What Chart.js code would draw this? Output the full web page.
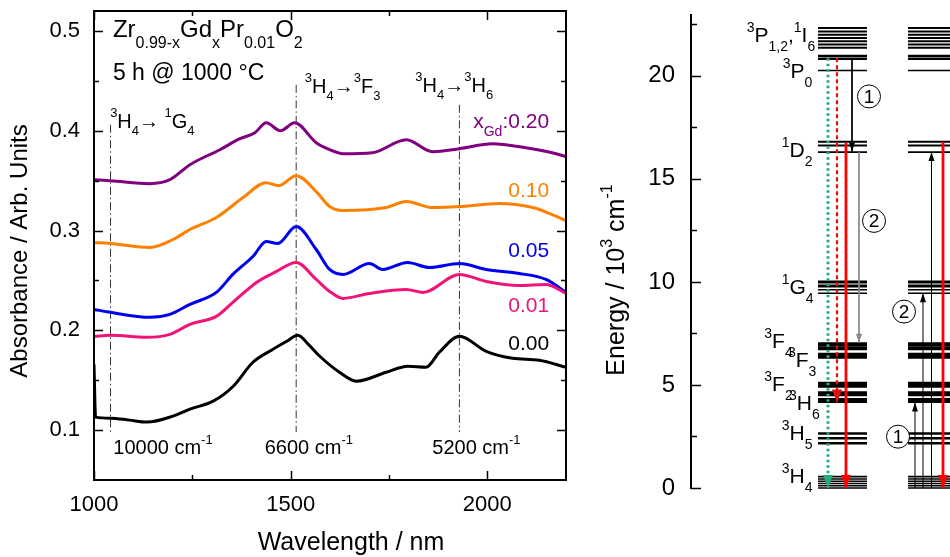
<!DOCTYPE html>
<html>
<head>
<meta charset="utf-8">
<script src="https://cdn.jsdelivr.net/npm/chart.js@4.4.1/dist/chart.umd.min.js"></script>
<style>
  html, body { margin: 0; padding: 0; background: #fff; }
  #wrap { position: relative; width: 950px; height: 557px; overflow: hidden; }
  #absChart { position: absolute; left: 0; top: 0; }
  #levelChart { position: absolute; left: 600px; top: 0; }
</style>
</head>
<body>
<div id="wrap">
  <canvas id="absChart" width="600" height="557"></canvas>
  <canvas id="levelChart" width="350" height="557"></canvas>
</div>
<script>
// ---- absorbance spectra (left) ----
const wl000  = [1000, 1004, 1042, 1090, 1134, 1201, 1244, 1303, 1354, 1404, 1455, 1490, 1518, 1545, 1574, 1624, 1667, 1743, 1798, 1844, 1878, 1929, 1997, 2064, 2132, 2200];
const abs000 = [0.166, 0.113, 0.112, 0.110, 0.108, 0.114, 0.121, 0.129, 0.144, 0.168, 0.181, 0.189, 0.195, 0.186, 0.174, 0.158, 0.149, 0.158, 0.164, 0.163, 0.178, 0.194, 0.179, 0.172, 0.170, 0.163];

const wl001  = [1000, 1042, 1134, 1193, 1244, 1311, 1353, 1413, 1464, 1514, 1565, 1599, 1633, 1700, 1794, 1836, 1929, 1997, 2081, 2149, 2200];
const abs001 = [0.194, 0.195, 0.193, 0.196, 0.206, 0.214, 0.228, 0.248, 0.259, 0.268, 0.251, 0.239, 0.232, 0.237, 0.241, 0.238, 0.256, 0.249, 0.245, 0.246, 0.237];

const wl005  = [1000, 1042, 1142, 1193, 1244, 1311, 1353, 1404, 1438, 1467, 1514, 1565, 1599, 1633, 1700, 1734, 1797, 1853, 1929, 1997, 2081, 2149, 2200];
const abs005 = [0.221, 0.218, 0.213, 0.216, 0.226, 0.238, 0.256, 0.274, 0.289, 0.287, 0.304, 0.281, 0.261, 0.256, 0.267, 0.261, 0.268, 0.263, 0.267, 0.261, 0.257, 0.251, 0.238];

const wl010  = [1000, 1042, 1142, 1201, 1244, 1311, 1379, 1437, 1470, 1514, 1565, 1599, 1633, 1743, 1794, 1861, 1929, 2030, 2115, 2165, 2200];
const abs010 = [0.288, 0.287, 0.283, 0.291, 0.301, 0.313, 0.333, 0.348, 0.345, 0.355, 0.339, 0.324, 0.320, 0.323, 0.329, 0.323, 0.324, 0.327, 0.323, 0.316, 0.310];

const wl020  = [1000, 1042, 1142, 1193, 1244, 1320, 1371, 1409, 1438, 1474, 1510, 1565, 1599, 1633, 1708, 1794, 1861, 1929, 2013, 2098, 2165, 2200];
const abs020 = [0.351, 0.350, 0.347, 0.351, 0.366, 0.381, 0.392, 0.398, 0.408, 0.400, 0.408, 0.388, 0.381, 0.377, 0.378, 0.391, 0.379, 0.382, 0.387, 0.383, 0.378, 0.374];

const seriesLabels = ['0.00', '0.01', '0.05', '0.10', 'x_{Gd}:0.20'];

// axis ticks
const wlTicks  = [1000, 1250, 1500, 1750, 2000];
const wlLabels = [1000, 1500, 2000];
const absTicks  = [0.1, 0.15, 0.2, 0.25, 0.3, 0.35, 0.4, 0.45, 0.5];
const absLabels = ['0.1', '0.2', '0.3', '0.4', '0.5'];
const energyTicks  = [0, 2.5, 5, 7.5, 10, 12.5, 15, 17.5, 20, 22.5];
const energyLabels = [0, 5, 10, 15, 20];

// transition markers (dash-dot lines)
const markWl  = [1042, 1514, 1929];
const markTop = [0.406, 0.446, 0.426];
const markBottom = 0.098;
const markText = ['10000 cm^{-1}', '6600 cm^{-1}', '5200 cm^{-1}'];

// ---- energy levels of Pr3+ (right), 10^3 cm^-1 ----
const lvlP    = [22.32, 22.15, 21.99, 21.83, 21.68, 21.52, 21.36, 20.97, 20.83];
const lvlP0   = [20.26];
const lvlD2   = [16.8, 16.62, 16.3];
const lvlG4   = [10.0, 9.8, 9.62, 9.45];
const lvlF43  = [6.97, 6.78, 6.48, 6.36];
const lvlF2H6 = [5.07, 4.95, 4.62, 4.52, 4.3, 4.2];
const lvlH5   = [2.65, 2.41, 2.17];
const lvlH4   = [0.55, 0.44, 0.33, 0.22, 0.11, 0.0];

// two columns (x in arbitrary diagram units)
const colStart = [12.7, 21.7];
const colEnd   = [17.6, 27.0];

// transitions
const arrowX    = [13.7, 14.6, 15.5, 16.1, 16.8, 22.4, 23.2, 24.05, 25.2];
const arrowFrom = [20.85, 20.85, 16.75, 20.8, 16.3, 0.0, 0.0, 0.0, 16.8];
const arrowTo   = [0.0, 4.15, 0.0, 16.33, 7.05, 4.15, 9.45, 16.3, 0.0];
const arrowKind = ['green', 'redDash', 'red', 'black', 'gray', 'black', 'black', 'black', 'red'];

const stepX = [17.8, 18.3, 20.7, 21.3];
const stepE = [19.0, 12.96, 2.49, 8.56];
const stepNo = ['1', '2', '1', '2'];

const levelNames = ['^{3}P_{1,2},^{1}I_{6}', '^{3}P_{0}', '^{1}D_{2}', '^{1}G_{4}', '^{3}F_{4}', '^{3}F_{3}', '^{3}F_{2}', '^{3}H_{6}', '^{3}H_{5}', '^{3}H_{4}'];
const levelNameE = [21.65, 19.89, 16.08, 9.42, 6.78, 5.89, 4.72, 3.79, 2.33, 0.23];
const levelNameX = [5.57, 9.17, 9.07, 9.07, 7.33, 9.7, 7.33, 9.8, 9.07, 9.07];

// ---------------------------------------------------------------
const FONT = '"Liberation Sans", Arial, Helvetica, sans-serif';
const colors = ['#000000', '#f01478', '#0000f0', '#ff8000', '#800080'];

function parseRich(str) {
    const out = [];
    const re = /([\^_])\{([^}]*)\}|([^\^_]+)/g;
    let m;
    while ((m = re.exec(str))) {
        if (m[3]) out.push({ t: m[3], k: 'n' });
        else out.push({ t: m[2], k: m[1] === '^' ? 'sup' : 'sub' });
    }
    return out;
}

// draws text with ^{sup} and _{sub}
function drawRich(ctx, str, x, y, o) {
    const size = o.size || 20;
    const small = o.small || Math.round(size * 0.66);
    const subDy = o.subDy != null ? o.subDy : size * 0.35;
    const supDy = o.supDy != null ? o.supDy : size * 0.5;
    const parts = parseRich(str);
    ctx.save();
    ctx.fillStyle = o.color || '#000';
    ctx.textBaseline = 'alphabetic';
    ctx.textAlign = 'left';
    let w = 0;
    parts.forEach(p => {
        ctx.font = (p.k === 'n' ? size : small) + 'px ' + FONT;
        p.w = ctx.measureText(p.t).width;
        w += p.w;
    });
    let cx = x;
    if (o.align === 'right') cx = x - w;
    if (o.align === 'center') cx = x - w / 2;
    parts.forEach(p => {
        ctx.font = (p.k === 'n' ? size : small) + 'px ' + FONT;
        const dy = p.k === 'sub' ? subDy : (p.k === 'sup' ? -supDy : 0);
        ctx.fillText(p.t, cx, y + dy);
        cx += p.w;
    });
    ctx.restore();
}

const near = (a, b) => Math.abs(a - b) < 1e-6;
const isAbsLabel = v => absLabels.some(l => near(parseFloat(l), v));

// ---- left chart ----
const specSets = [[wl000, abs000], [wl001, abs001], [wl005, abs005], [wl010, abs010], [wl020, abs020]]
    .map((s, i) => ({
        data: s[0].map((x, j) => ({ x: x, y: s[1][j] })),
        borderColor: colors[i],
        borderWidth: 3,
        cubicInterpolationMode: 'monotone',
        pointRadius: 0,
        fill: false
    }));

const markSets = markWl.map((x, i) => ({
    data: [{ x: x, y: markTop[i] }, { x: x, y: markBottom }],
    borderColor: '#333',
    borderWidth: 1,
    borderDash: [8, 3, 1.5, 3],
    pointRadius: 0
}));

const absDecor = {
    id: 'absDecor',
    afterDraw(chart) {
        const ctx = chart.ctx;
        const a = chart.chartArea;
        const xs = chart.scales.x, ys = chart.scales.y;
        ctx.save();
        ctx.strokeStyle = '#000';
        ctx.lineWidth = 2;
        ctx.strokeRect(a.left, a.top, a.right - a.left, a.bottom - a.top);
        ctx.lineWidth = 1.5;
        ctx.beginPath();
        ys.ticks.forEach(t => {
            const py = Math.round(ys.getPixelForValue(t.value)) + 0.5;
            const len = isAbsLabel(t.value) ? 9 : 5;
            ctx.moveTo(a.left, py); ctx.lineTo(a.left + len, py);
            ctx.moveTo(a.right, py); ctx.lineTo(a.right - len, py);
        });
        xs.ticks.forEach(t => {
            const px = Math.round(xs.getPixelForValue(t.value)) + 0.5;
            const len = wlLabels.includes(t.value) ? 9 : 5;
            ctx.moveTo(px, a.bottom); ctx.lineTo(px, a.bottom - len);
            ctx.moveTo(px, a.top); ctx.lineTo(px, a.top + len);
        });
        ctx.stroke();
        ctx.restore();

        const X = v => xs.getPixelForValue(v);
        const Y = v => ys.getPixelForValue(v);

        drawRich(ctx, 'Zr_{0.99-x}Gd_{x}Pr_{0.01}O_{2}', X(1048), Y(0.494), { size: 24, small: 16, subDy: 11 });
        drawRich(ctx, '5 h @ 1000 °C', X(1048), Y(0.451), { size: 23 });
        drawRich(ctx, '^{3}H_{4}→ ^{1}G_{4}', X(1041), Y(0.403), { size: 20, small: 13, subDy: 7, supDy: 11 });
        drawRich(ctx, '^{3}H_{4}→^{3}F_{3}', X(1536), Y(0.438), { size: 20, small: 13, subDy: 7, supDy: 11 });
        drawRich(ctx, '^{3}H_{4}→^{3}H_{6}', X(1817), Y(0.439), { size: 20, small: 13, subDy: 7, supDy: 11 });

        const labelY = [0.180, 0.218, 0.273, 0.334, 0.403];
        seriesLabels.forEach((s, i) => {
            drawRich(ctx, s, X(2157), Y(labelY[i]), { size: 21, small: 14, subDy: 8, color: colors[i], align: 'right' });
        });
        const textWl = [1049, 1434, 1860];
        markText.forEach((s, i) => {
            drawRich(ctx, s, X(textWl[i]), Y(0.076), { size: 20, small: 13, supDy: 10 });
        });

        // axis titles
        ctx.save();
        ctx.fillStyle = '#000';
        ctx.font = '25px ' + FONT;
        ctx.textAlign = 'center';
        ctx.textBaseline = 'alphabetic';
        ctx.fillText('Wavelength / nm', 351, 550);
        ctx.translate(27, 251);
        ctx.rotate(-Math.PI / 2);
        ctx.font = '24px ' + FONT;
        ctx.fillText('Absorbance / Arb. Units', 0, 0);
        ctx.restore();
    }
};

new Chart(document.getElementById('absChart'), {
    type: 'line',
    data: { datasets: specSets.concat(markSets) },
    options: {
        responsive: false,
        animation: false,
        layout: { autoPadding: false, padding: { top: 11, right: 34, left: 0, bottom: 0 } },
        plugins: { legend: { display: false }, tooltip: { enabled: false } },
        scales: {
            x: {
                type: 'linear', min: 1000, max: 2200,
                grid: { display: false, drawTicks: false }, border: { display: false },
                ticks: {
                    autoSkip: false, maxRotation: 0, padding: 12,
                    color: '#000', font: { size: 22, family: FONT },
                    callback: v => (wlLabels.includes(v) ? String(v) : '')
                },
                afterBuildTicks(s) { s.ticks = wlTicks.map(v => ({ value: v })); },
                afterFit(s) { s.height = 77; s.paddingLeft = 0; s.paddingRight = 0; }
            },
            y: {
                type: 'linear', min: 0.05, max: 0.52,
                grid: { display: false, drawTicks: false }, border: { display: false },
                ticks: {
                    autoSkip: false, padding: 14,
                    color: '#000', font: { size: 22, family: FONT },
                    callback: v => absLabels.find(l => near(parseFloat(l), v)) || ''
                },
                afterBuildTicks(s) { s.ticks = absTicks.map(v => ({ value: v })); },
                afterFit(s) { s.width = 94; s.paddingTop = 0; s.paddingBottom = 0; }
            }
        }
    },
    plugins: [absDecor]
});

// ---- right chart ----
const levelStyle = {
    P: [2, 2, 2, 2, 2, 2, 2, 2.4, 2.4], P0: [1.4], D2: [2.2, 2.2, 1.6], G4: [3, 3, 1.5, 1.5],
    F43: [4, 4, 3.5, 3.5], F2H6: [3.5, 3.5, 3, 3, 3, 3], H5: [2.5, 2.5, 2.5], H4: [1.6, 1.6, 1.6, 1.6, 1.6, 1.6]
};
const levelGroups = { P: lvlP, P0: lvlP0, D2: lvlD2, G4: lvlG4, F43: lvlF43, F2H6: lvlF2H6, H5: lvlH5, H4: lvlH4 };

const levelSets = [];
Object.keys(levelGroups).forEach(k => {
    levelGroups[k].forEach((e, i) => {
        const pts = [];
        colStart.forEach((c, j) => {
            pts.push({ x: c, y: e }, { x: colEnd[j], y: e }, { x: colEnd[j] + 0.1, y: null });
        });
        levelSets.push({
            data: pts, borderColor: '#000', borderWidth: levelStyle[k][i],
            pointRadius: 0, spanGaps: false, order: 3, clip: false
        });
    });
});

const arrowStyle = {
    green:   { color: '#22ad7c', width: 3, dash: [2.5, 3], head: [13, 5] },
    redDash: { color: '#e01010', width: 2.2, dash: [4, 3], head: [13, 5] },
    red:     { color: '#ff0000', width: 2.8, dash: [], head: [13, 5] },
    black:   { color: '#000000', width: 1, dash: [], head: [9, 3] },
    gray:    { color: '#8a8a8a', width: 1, dash: [], head: [9, 3] }
};
const arrowSets = arrowX.map((x, i) => {
    const st = arrowStyle[arrowKind[i]];
    return {
        data: [{ x: x, y: arrowFrom[i] }, { x: x, y: arrowTo[i] }],
        borderColor: st.color, borderWidth: st.width, borderDash: st.dash,
        pointRadius: 0, order: 2, clip: false, arrowHead: st.head
    };
});

const stepSet = {
    type: 'scatter',
    data: stepX.map((x, i) => ({ x: x, y: stepE[i] })),
    pointRadius: 11.5, pointBackgroundColor: '#fff', pointBorderColor: '#000',
    pointBorderWidth: 1, showLine: false, order: 1, clip: false
};

const levelDecor = {
    id: 'levelDecor',
    afterDatasetsDraw(chart) {
        const ctx = chart.ctx;
        chart.data.datasets.forEach((ds, i) => {
            if (!ds.arrowHead) return;
            const pts = chart.getDatasetMeta(i).data;
            const p0 = pts[0], p1 = pts[1];
            const ang = Math.atan2(p1.y - p0.y, p1.x - p0.x);
            ctx.save();
            ctx.translate(p1.x, p1.y);
            ctx.rotate(ang);
            ctx.beginPath();
            ctx.moveTo(0, 0);
            ctx.lineTo(-ds.arrowHead[0], -ds.arrowHead[1]);
            ctx.lineTo(-ds.arrowHead[0], ds.arrowHead[1]);
            ctx.closePath();
            ctx.fillStyle = ds.borderColor;
            ctx.fill();
            ctx.restore();
        });
        const xs = chart.scales.x, ys = chart.scales.y;
        ctx.save();
        ctx.fillStyle = '#000';
        ctx.font = '19px ' + FONT;
        ctx.textAlign = 'center';
        ctx.textBaseline = 'middle';
        stepX.forEach((x, i) => {
            ctx.fillText(stepNo[i], xs.getPixelForValue(x), ys.getPixelForValue(stepE[i]) + 1);
        });
        ctx.restore();
    },
    afterDraw(chart) {
        const ctx = chart.ctx;
        const a = chart.chartArea;
        const xs = chart.scales.x, ys = chart.scales.y;
        ctx.save();
        ctx.strokeStyle = '#000';
        ctx.lineWidth = 2;
        ctx.beginPath();
        ctx.moveTo(a.left, a.top);
        ctx.lineTo(a.left, a.bottom + 1);
        ctx.stroke();
        ctx.lineWidth = 1.5;
        ctx.beginPath();
        ys.ticks.forEach(t => {
            const py = Math.round(ys.getPixelForValue(t.value)) + 0.5;
            const len = energyLabels.includes(t.value) ? 10 : 6;
            ctx.moveTo(a.left, py); ctx.lineTo(a.left + len, py);
        });
        ctx.stroke();
        ctx.restore();

        levelNames.forEach((s, i) => {
            drawRich(ctx, s, xs.getPixelForValue(levelNameX[i]), ys.getPixelForValue(levelNameE[i]),
                { size: 21, small: 14, subDy: 9, supDy: 10 });
        });

        ctx.save();
        ctx.translate(24, 280);
        ctx.rotate(-Math.PI / 2);
        drawRich(ctx, 'Energy / 10^{3} cm^{-1}', 0, 0, { size: 25, small: 16, supDy: 12, align: 'center' });
        ctx.restore();
    }
};

new Chart(document.getElementById('levelChart'), {
    type: 'line',
    data: { datasets: [stepSet].concat(arrowSets, levelSets) },
    options: {
        responsive: false,
        animation: false,
        layout: { autoPadding: false, padding: { top: 14, bottom: 69, left: 0, right: 0 } },
        plugins: { legend: { display: false }, tooltip: { enabled: false } },
        scales: {
            x: { type: 'linear', min: 0, max: 25.9, display: false },
            y: {
                type: 'linear', min: 0, max: 23,
                grid: { display: false, drawTicks: false }, border: { display: false },
                ticks: {
                    autoSkip: false, padding: 16,
                    color: '#000', font: { size: 24, family: FONT },
                    callback: v => (energyLabels.includes(v) ? String(v) : '')
                },
                afterBuildTicks(s) { s.ticks = energyTicks.map(v => ({ value: v })); },
                afterFit(s) { s.width = 91; s.paddingTop = 0; s.paddingBottom = 0; }
            }
        }
    },
    plugins: [levelDecor]
});
</script>
</body>
</html>
